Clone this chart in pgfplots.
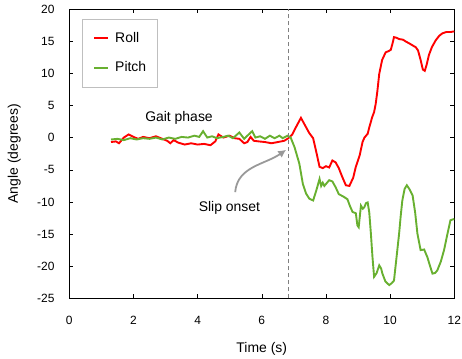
\documentclass[border=0pt]{standalone}
\usepackage{fontspec}
\setmainfont{Liberation Sans}
\usepackage{pgfplots}
\pgfplotsset{compat=1.18}
\usetikzlibrary{arrows.meta}
\definecolor{rollred}{RGB}{255,0,0}
\definecolor{pitchgreen}{RGB}{104,176,48}
\begin{document}
\fontsize{14}{16}\selectfont
\begin{tikzpicture}
\begin{axis}[
  scale only axis, width=385bp, height=289bp,
  xmin=0, xmax=12, ymin=-25, ymax=20,
  xtick={0,2,...,12}, ytick={-25,-20,...,20},
  tick align=inside, major tick length=4bp,
  /pgf/number format/assume math mode=true,
  tick label style={font=\fontsize{12}{14}\selectfont},
  xticklabel style={yshift=-13.5bp},
  yticklabel style={xshift=-10bp},
  xlabel={Time (s)}, ylabel={Angle (degrees)},
  label style={font=\fontsize{14}{16}\selectfont},
  xlabel style={yshift=-8bp},
  ylabel style={yshift=7bp},
  axis line style={line width=0.8pt},
  tick style={line width=0.6pt, black},
  legend style={at={(0.033,0.966)}, anchor=north west, draw=black!25,
     nodes={font=\fontsize{14}{16}\selectfont, inner sep=0pt},
     /tikz/every odd column/.append style={column sep=6bp},
     row sep=17bp, inner xsep=11bp, inner ysep=13bp},
  legend cell align=left,
  legend image code/.code={\draw[#1, line width=2pt] (0bp,0bp) -- (14bp,0bp);},
]
\addplot[rollred, line width=1.9pt] coordinates {
(1.30,-0.67)(1.45,-0.57)(1.55,-0.86)(1.70,0.03)(1.85,0.52)(2.00,0.13)(2.15,-0.17)(2.30,0.13)(2.50,-0.07)(2.70,0.23)
(2.90,-0.17)(3.05,-0.47)(3.15,-0.86)(3.25,-0.37)(3.40,-0.77)(3.60,-1.06)(3.80,-0.86)(4.00,-1.06)(4.20,-0.96)(4.40,-1.16)
(4.55,-0.57)(4.65,0.52)(4.80,0.03)(5.00,0.32)(5.15,-0.07)(5.30,-0.17)(5.45,-0.86)(5.55,-0.67)(5.65,0.13)(5.75,-0.47)
(5.90,-0.57)(6.10,-0.67)(6.30,-0.86)(6.50,-0.67)(6.70,-0.47)(6.83,-0.07)(6.95,0.52)(7.05,1.51)(7.22,3.10)(7.35,1.91)
(7.48,0.72)(7.60,-0.07)(7.70,-2.25)(7.80,-4.53)(7.90,-4.73)(8.00,-4.43)(8.10,-4.63)(8.20,-3.54)(8.30,-3.83)(8.40,-4.73)
(8.50,-6.01)(8.62,-7.40)(8.73,-7.50)(8.85,-6.21)(8.93,-4.53)(9.05,-2.75)(9.14,-0.67)(9.20,0.03)(9.30,0.62)(9.35,1.61)
(9.44,3.20)(9.50,3.99)(9.55,5.27)(9.60,7.16)(9.66,9.93)(9.75,12.11)(9.86,13.30)(9.95,13.49)(10.02,13.69)(10.08,14.78)
(10.12,15.67)(10.20,15.57)(10.28,15.37)(10.40,15.27)(10.49,14.98)(10.60,14.68)(10.70,14.38)(10.80,14.09)(10.87,13.59)(10.95,12.11)
(11.02,10.62)(11.08,10.42)(11.14,11.41)(11.21,12.90)(11.30,14.09)(11.42,15.17)(11.53,15.87)(11.63,16.26)(11.75,16.46)(11.88,16.46)(12.00,16.56)
};
\addlegendentry{Roll}
\addplot[pitchgreen, line width=1.9pt] coordinates {
(1.30,-0.27)(1.50,-0.17)(1.70,-0.37)(1.90,-0.07)(2.10,-0.27)(2.30,-0.07)(2.50,-0.17)(2.70,0.03)(2.90,-0.27)(3.10,0.03)
(3.30,-0.17)(3.50,0.13)(3.70,0.03)(3.90,0.32)(4.05,0.13)(4.17,1.02)(4.30,0.03)(4.45,0.23)(4.60,-0.07)(4.80,0.13)
(4.95,0.32)(5.10,-0.07)(5.30,0.82)(5.45,-0.17)(5.55,0.32)(5.70,1.02)(5.80,0.03)(5.95,0.23)(6.10,-0.17)(6.25,0.32)
(6.40,-0.07)(6.55,0.32)(6.65,-0.07)(6.80,0.32)(6.90,0.03)(7.02,-1.46)(7.17,-4.03)(7.28,-7.20)(7.38,-8.69)(7.48,-9.48)
(7.60,-9.77)(7.70,-8.19)(7.80,-6.41)(7.85,-7.50)(7.90,-7.00)(7.95,-7.50)(8.10,-6.61)(8.20,-6.80)(8.30,-7.70)(8.40,-8.78)
(8.55,-9.18)(8.67,-9.58)(8.75,-10.67)(8.83,-11.56)(8.93,-11.75)(8.98,-13.64)(9.02,-13.93)(9.09,-10.57)(9.15,-11.06)(9.19,-10.86)
(9.25,-10.17)(9.30,-10.07)(9.35,-11.65)(9.40,-14.92)(9.45,-18.59)(9.50,-21.65)(9.58,-21.06)(9.66,-19.87)(9.72,-20.37)(9.76,-21.16)
(9.85,-22.35)(9.97,-22.94)(10.05,-22.64)(10.12,-22.25)(10.20,-18.59)(10.28,-14.92)(10.33,-12.15)(10.38,-9.77)(10.45,-7.99)(10.52,-7.40)
(10.60,-7.99)(10.70,-8.98)(10.78,-11.65)(10.85,-14.92)(10.95,-17.50)(11.06,-17.40)(11.16,-18.59)(11.25,-20.07)(11.32,-21.16)(11.40,-21.06)
(11.47,-20.66)(11.58,-19.28)(11.68,-17.50)(11.78,-15.12)(11.88,-12.84)(12.00,-12.65)
};
\addlegendentry{Pitch}
\addplot[gray, line width=0.8pt, dash pattern=on 4bp off 3bp, forget plot] coordinates {(6.83,-25)(6.83,20)};
\node at (axis cs:3.42,3.08) {Gait phase};
\node at (axis cs:4.99,-10.93) {Slip onset};
\draw[black!40, line width=1.8pt, -{Latex[length=8bp,width=8bp]}]
  (axis cs:5.17,-8.47) to[out=85,in=215] (axis cs:6.76,-1.87);
\end{axis}
\pgfresetboundingbox
\path (-69.3bp,-60.7bp) rectangle (392.7bp,298.3bp);
\end{tikzpicture}
\end{document}
